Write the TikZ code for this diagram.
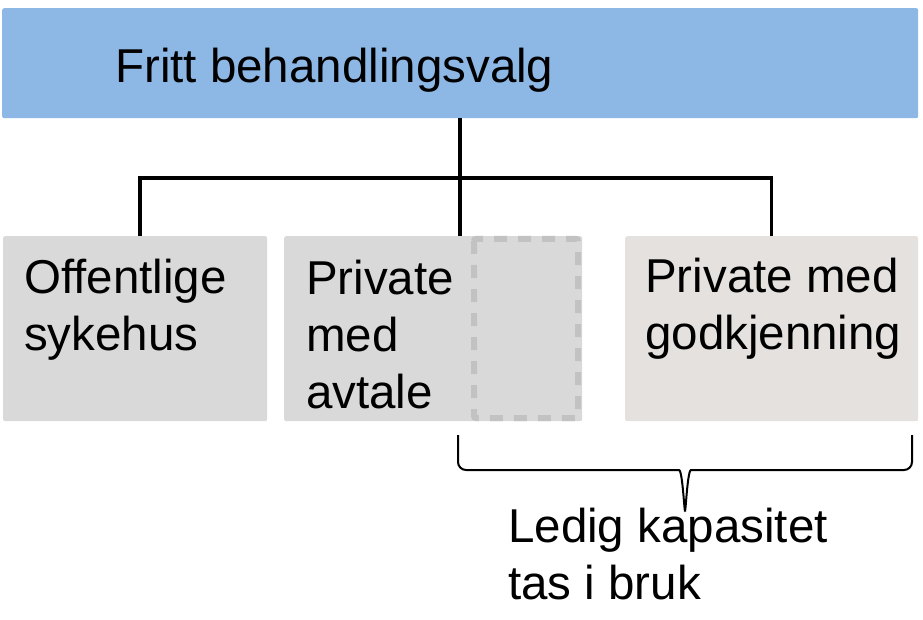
\documentclass[tikz,border=0pt]{standalone}
\usepackage{fontspec}
\setmainfont{Liberation Sans}
\usetikzlibrary{positioning}
\definecolor{valgblue}{RGB}{141,184,229}
\definecolor{boxgrey}{RGB}{217,217,217}
\definecolor{boxwarm}{RGB}{228,225,222}
\definecolor{dashgrey}{RGB}{194,194,194}
\tikzset{
  boxnode/.style={anchor=north west,inner sep=0pt,rounded corners=2pt,minimum height=185pt},
  txt/.style={anchor=base west,inner sep=0pt,align=left,font=\fontsize{47.5}{57}\selectfont},
  conn/.style={line width=3.5pt},
  dashbox/.style={draw=dashgrey,line width=6pt,dash pattern=on 13pt off 11pt,rounded corners=2pt},
  bracel/.style={line width=2pt,rounded corners=8pt}
}
\begin{document}
\begin{tikzpicture}[x=1pt,y=-1pt]
\useasboundingbox (0,0) rectangle (923,620);
\node[boxnode,fill=valgblue,minimum width=916pt,minimum height=110pt](valg) at (2,8){};
\node[boxnode,fill=boxgrey,minimum width=264pt](off) at (3,236){};
\node[boxnode,fill=boxgrey,minimum width=298pt](avt) at (284,236){};
\node[boxnode,fill=boxwarm,minimum width=293pt](godk) at (625,236){};
\draw[dashbox](474,239) rectangle (578,418);
% base west of a node is the baseline of its last line
\node[txt] at ([shift={(113,75)}]valg.north west){Fritt behandlingsvalg};
\node[txt] at ([shift={(21,114)}]off.north west){Offentlige\\sykehus};
\node[txt] at ([shift={(22,172)}]avt.north west){Private\\med\\avtale};
\node[txt] at ([shift={(20,113)}]godk.north west){Private med\\godkjenning};
% tree lines
\coordinate(bar) at (0,178);
\draw[conn](valg.south)--(valg.south |- avt.north);
\draw[conn]([xshift=5pt]off.north)--([xshift=5pt]off.north |- bar)--(godk.north |- bar)--(godk.north);
% brace
\coordinate(bl) at (458,435);
\coordinate(br) at (912,435);
\coordinate(tip) at (685,505);
\coordinate(flat) at (0,470);
\draw[bracel](bl)--(bl |- flat)--([xshift=-14pt]tip |- flat) .. controls ([xshift=-2pt]tip |- flat) and ([yshift=-22pt]tip) .. (tip);
\draw[bracel](br)--(br |- flat)--([xshift=14pt]tip |- flat) .. controls ([xshift=2pt]tip |- flat) and ([yshift=-22pt]tip) .. (tip);
\node[txt] at (508,599){Ledig kapasitet\\tas i bruk};
\end{tikzpicture}
\end{document}
